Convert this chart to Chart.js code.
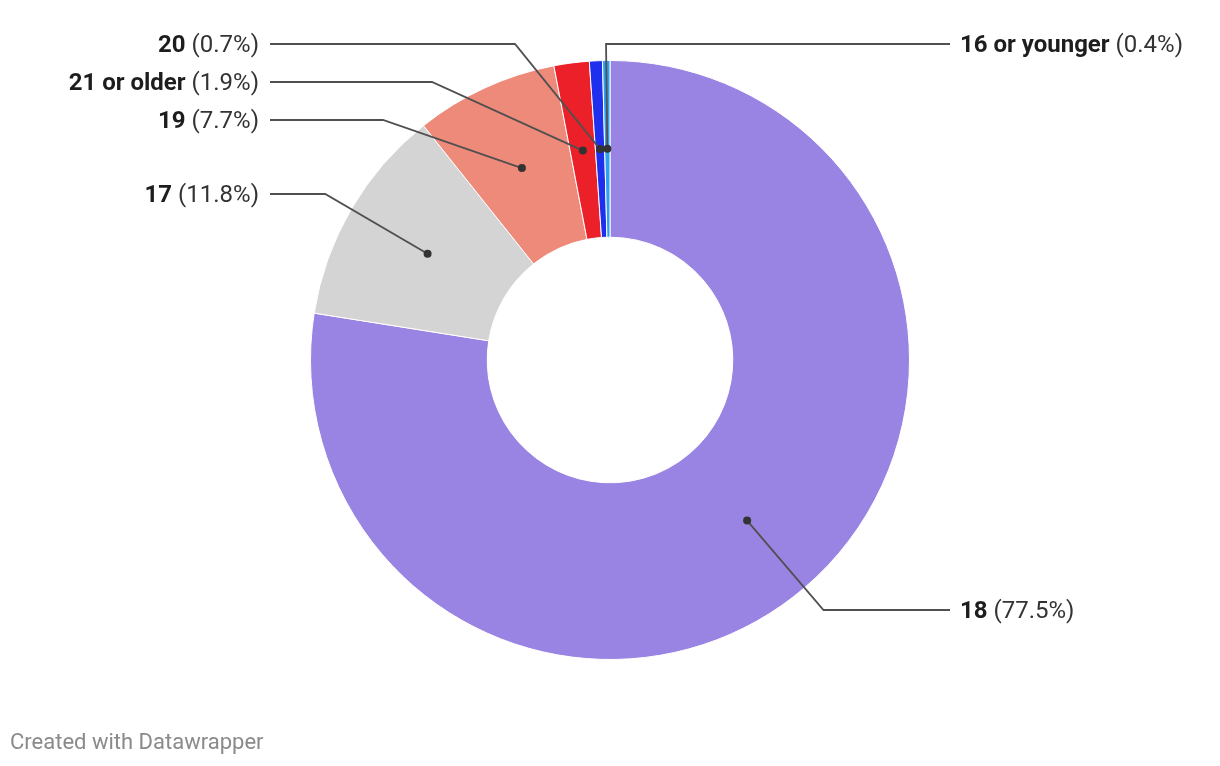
<!DOCTYPE html>
<html>
<head>
<meta charset="utf-8">
<script src="https://cdn.jsdelivr.net/npm/chart.js@4"></script>
<style>
  html, body { margin: 0; padding: 0; background: #fff; }
  #wrap { position: relative; width: 1220px; height: 766px; }
  #footer {
    position: absolute; left: 10px; top: 729px;
    font-family: Roboto, sans-serif; font-size: 22px; line-height: 26px; color: #8a8a8a;
  }
</style>
</head>
<body>
<div id="wrap">
  <canvas id="ageChart" width="1220" height="766"></canvas>
  <div id="footer">Created with Datawrapper</div>
</div>
<script>
// age groups, clockwise from the top
var ageLabels = ['18', '17', '19', '21 or older', '20', '16 or younger'];
var agePercent = [77.5, 11.8, 7.7, 1.9, 0.7, 0.4];
var sliceColors = ['#9983e3', '#d4d4d4', '#ee8a7a', '#ec2029', '#1e30ee', '#2f9ff5'];

// where each callout sits (label side, row, optional elbow x)
var calloutLayout = {
    '18': { side: 'right', y: 610 },
    '17': { side: 'left', y: 194 },
    '19': { side: 'left', y: 120, elbowX: 383 },
    '21 or older': { side: 'left', y: 82, elbowX: 432 },
    '20': { side: 'left', y: 44, elbowX: 515 },
    '16 or younger': { side: 'right', y: 44 }
};

const calloutPlugin = {
    id: 'callouts',
    afterDraw(chart) {
        const ctx = chart.ctx;
        const meta = chart.getDatasetMeta(0);
        const leftX = 259, rightX = 960;
        ctx.save();
        meta.data.forEach(function (arc, i) {
            const name = ageLabels[i];
            const lay = calloutLayout[name];
            const p = arc.getCenterPoint();
            const mid = (arc.startAngle + arc.endAngle) / 2;
            let ex = lay.elbowX;
            if (ex === undefined) {
                // follow the slice's radial direction up to the label row
                ex = p.x + (lay.y - p.y) * Math.cos(mid) / Math.sin(mid);
            }
            const lineEnd = lay.side === 'left' ? 270 : rightX - 10;

            ctx.strokeStyle = '#505050';
            ctx.lineWidth = 1.8;
            ctx.beginPath();
            ctx.moveTo(lineEnd, lay.y);
            ctx.lineTo(ex, lay.y);
            ctx.lineTo(p.x, p.y);
            ctx.stroke();

            ctx.fillStyle = '#333';
            ctx.beginPath();
            ctx.arc(p.x, p.y, 4, 0, Math.PI * 2);
            ctx.fill();

            // bold name + regular percentage
            const bold = 'bold 24px Roboto';
            const reg = '24px Roboto';
            const pct = ' (' + agePercent[i].toFixed(1) + '%)';
            const ty = lay.y + 2;
            ctx.textBaseline = 'middle';
            ctx.textAlign = 'left';
            ctx.font = bold;
            const w1 = ctx.measureText(name).width;
            ctx.font = reg;
            const w2 = ctx.measureText(pct).width;
            let x0 = lay.side === 'left' ? leftX - w1 - w2 : rightX;
            ctx.font = bold;
            ctx.fillStyle = '#1d1d1d';
            ctx.fillText(name, x0, ty);
            ctx.font = reg;
            ctx.fillStyle = '#333';
            ctx.fillText(pct, x0 + w1, ty);
        });
        ctx.restore();
    }
};

function drawChart() {
    const ctx = document.getElementById('ageChart').getContext('2d');
    new Chart(ctx, {
        type: 'doughnut',
        data: {
            labels: ageLabels,
            datasets: [{
                data: agePercent,
                backgroundColor: sliceColors,
                borderColor: '#ffffff',
                borderWidth: 1
            }]
        },
        options: {
            responsive: false,
            animation: false,
            cutout: '41%',
            layout: { padding: { top: 60, bottom: 106, left: 310, right: 310 } },
            plugins: {
                legend: { display: false },
                tooltip: { enabled: false }
            }
        },
        plugins: [calloutPlugin]
    });
}

Promise.all([
    document.fonts.load('bold 24px Roboto'),
    document.fonts.load('24px Roboto')
]).then(drawChart, drawChart);
</script>
</body>
</html>
